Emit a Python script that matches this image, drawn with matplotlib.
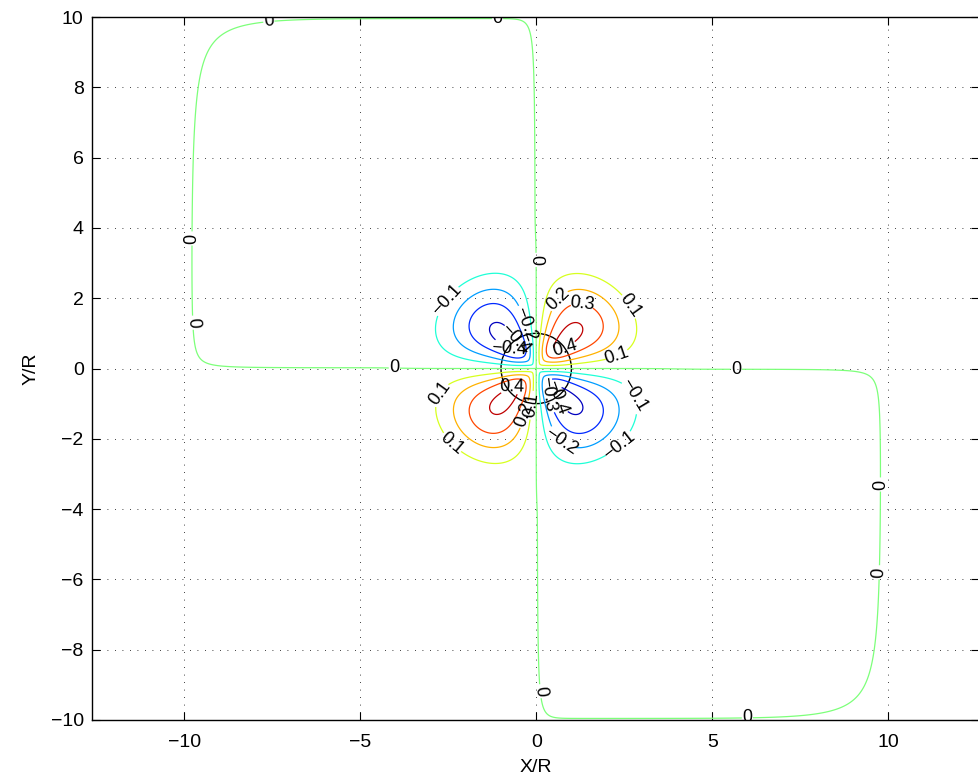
import numpy as np
import matplotlib
matplotlib.use('Agg')
import matplotlib.pyplot as plt
from matplotlib.patches import Circle

plt.rcParams['font.family'] = ['Liberation Sans', 'DejaVu Sans']

# contour levels, ticks
levels = [-0.4, -0.3, -0.2, -0.1, 0.0, 0.1, 0.2, 0.3, 0.4]
x_ticks = [-10, -5, 0, 5, 10]
y_ticks = [-10, -8, -6, -4, -2, 0, 2, 4, 6, 8, 10]

R = 1.0          # cylinder radius (black circle)
half_box = 10.0  # computational box is [-10, 10]^2

# lobe model
lobe_slope = 0.6     # growth near the origin
lobe_peak = 0.43     # plateau value
lobe_knee = 1.0      # plateau ends here
lobe_fall = 2.05     # fall-off length past the plateau
y_stretch = 1.08     # lobes are a bit wider in x than in y

# thin layers where the zero line hugs the box walls / axes (2nd and 4th quadrant)
wall_side_w = 2.0
wall_top_w = 4.0
axis_v_w = 0.3
axis_h_w = 0.93
zero_thresh = 0.1
far_amp = 0.02

# label positions (data coords)
zero_label_pos = [(-4.03, 0.0), (0.0, 3.09), (5.68, 0.0), (-7.6, 9.95), (-1.1, 9.95),
                  (-9.8, 3.7), (-9.8, 1.3), (0.0, -9.2), (6.0, -9.95), (9.8, -3.3), (9.8, -5.8)]
lobe_label_pos = [(-2.61, 2.03), (0.6, 2.0), (1.3, 1.8), (2.84, 1.95), (0.8, 0.6), (2.3, 0.33),
                  (-2.76, -0.7), (2.73, -0.8), (-2.53, -2.32), (2.44, -2.32), (0.71, -2.09),
                  (-0.68, -0.61), (-0.28, 1.29), (-0.77, 0.53), (-0.5, 0.9), (0.3, -0.75),
                  (0.45, -0.95), (-0.35, -1.3), (-0.1, -1.05)]


xs = np.linspace(-half_box, half_box, 1201)
X, Y = np.meshgrid(xs, xs)
r = np.hypot(X, Y)
r_safe = np.where(r == 0, 1e-9, r)
r_eff = np.hypot(X, y_stretch * Y)

rise = ((lobe_slope * r_eff + 1e-12) ** -6 + lobe_peak ** -6) ** (-1 / 6)
amp = rise * np.exp(-(np.clip(r_eff - lobe_knee, 0, None) / lobe_fall) ** 3)
core = amp * 2 * X * Y / r_safe ** 2

a = half_box - np.abs(X)
b = half_box - np.abs(Y)
c = np.abs(X)
e = np.abs(Y)
phi = (np.tanh(a / wall_side_w)
       * (0.09 * np.tanh(b / 0.01) + 0.91 * np.tanh(b / wall_top_w))
       * np.tanh(c / axis_v_w)
       * np.tanh((e / axis_h_w) ** 0.6))
eps = far_amp * (r / half_box) ** 2
far = np.where(X * Y < 0, eps * (zero_thresh - phi), eps * zero_thresh)
Z = core + far


def fmt(v):
    s = f'{v:g}'
    if s == '-0':
        s = '0'
    return s.replace('-', '\u2212')


fig = plt.figure(figsize=(9.79, 7.84), dpi=100)
fig.patch.set_facecolor('white')
ax = fig.add_axes([92 / 979, 64 / 784, 887 / 979, 703 / 784])

cs = ax.contour(xs, xs, Z, levels=levels, cmap='jet', vmin=-0.45, vmax=0.45, linewidths=0.9)
ax.clabel(cs, fmt=fmt, fontsize=13, colors='k', inline=True, inline_spacing=2,
          manual=zero_label_pos + lobe_label_pos)

ax.add_patch(Circle((0, 0), R, fill=False, ec='k', lw=1.0))

ax.set_xlim(-12.62, 12.58)
ax.set_ylim(-10, 10)
ax.set_xticks(x_ticks)
ax.set_yticks(y_ticks)
ax.tick_params(direction='in', length=6, top=True, right=True, labelsize=14, width=0.8)
ax.tick_params(axis='x', pad=10)
ax.tick_params(axis='y', pad=6)
ax.grid(True, linestyle=(0, (1, 8)), color='k', lw=0.6)
for spine in ax.spines.values():
    spine.set_linewidth(1.0)

ax.set_xlabel('X/R', fontsize=14, labelpad=6)
ax.set_ylabel('Y/R', fontsize=14, labelpad=8)

fig.savefig('out.png', dpi=100)
